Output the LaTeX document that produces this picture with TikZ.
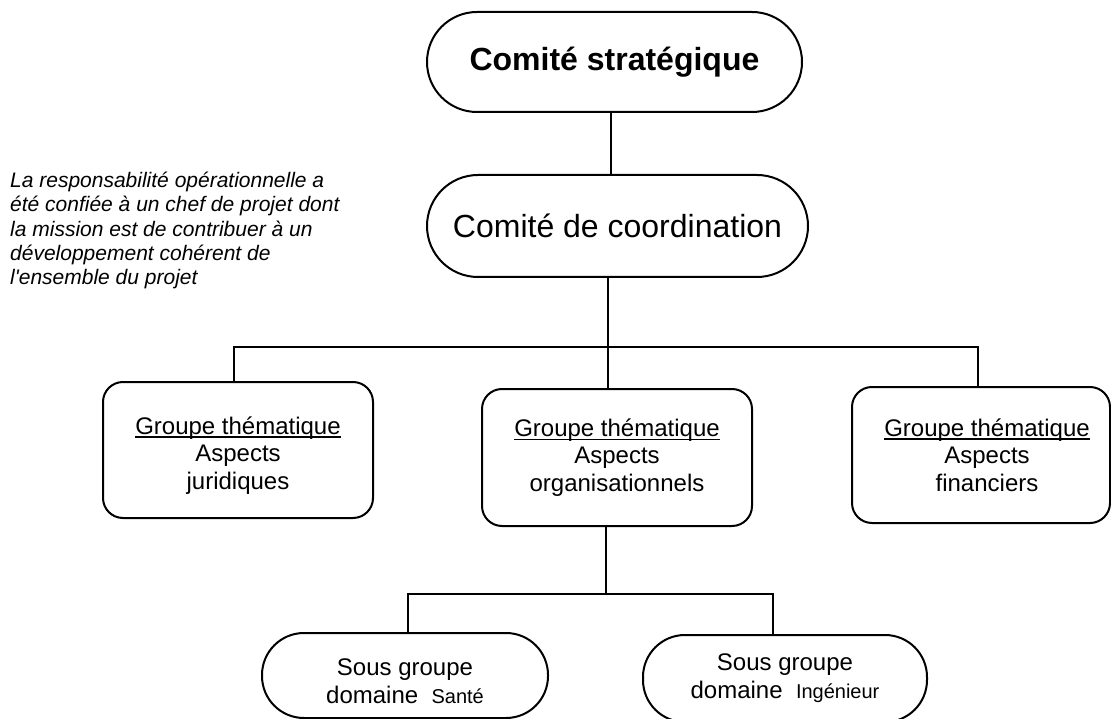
\documentclass[tikz,border=0pt]{standalone}
\usepackage{fontspec}
\setmainfont{Liberation Sans}
\newcommand{\myul}[1]{\setbox0=\hbox{#1}\rlap{\rule[-3.5pt]{\wd0}{1.3pt}}\box0}
\tikzset{
  stadium/.style={draw, line width=2pt, rounded corners=#1, inner sep=0pt, align=center},
  grpbox/.style={draw, line width=2pt, rounded corners=20pt, inner sep=0pt, align=center,
                 font=\fontsize{24}{27.5}\selectfont},
  subbox/.style={draw, line width=2pt, rounded corners=42pt, inner sep=0pt, align=center,
                 font=\fontsize{24}{28}\selectfont},
  link/.style={line width=2pt}
}
\begin{document}
\begin{tikzpicture}[x=1pt,y=-1pt]
\fill[white] (0,0) rectangle (1111,719);
\useasboundingbox (0,0) rectangle (1111,719);

% top nodes
\node[stadium=50pt, minimum width=375pt, minimum height=100pt,
      font=\fontsize{32}{36}\selectfont\bfseries] (strat) at (614.5,62) {Comité stratégique};
\node[stadium=51pt, minimum width=381pt, minimum height=102pt,
      font=\fontsize{32}{36}\selectfont] (coord) at (617.5,226) {Comité de coordination};

% note
\node[anchor=north west, inner sep=0pt, align=left,
      font=\fontsize{21}{24.3}\selectfont\itshape] (note) at (10,172)
  {La responsabilité opérationnelle a\\été confiée à un chef de projet dont\\la mission est de contribuer à un\\développement cohérent de\\l\textquotesingle ensemble du projet};

% thematic groups
\node[grpbox, minimum width=270pt, minimum height=136pt] (g1) at (238,450)
  {\rule{0pt}{28pt}\myul{Groupe thématique}\\Aspects\\juridiques};
\node[grpbox, minimum width=270pt, minimum height=137pt] (g2) at (617,457.5)
  {\myul{Groupe thématique}\\Aspects\\organisationnels};
\node[grpbox, minimum width=258pt, minimum height=136pt] (g3) at (981,455)
  {\hspace*{12pt}\myul{Groupe thématique}\\\hspace*{12pt}Aspects\\\hspace*{12pt}financiers};

% sub-groups
\node[subbox, minimum width=286pt, minimum height=85pt] (s1) at (405,675.5)
  {\rule{0pt}{28pt}Sous groupe\\domaine\ \ {\fontsize{20}{24}\selectfont Santé}};
\node[subbox, minimum width=284pt, minimum height=87pt] (s2) at (785,678.5)
  {Sous groupe\\domaine\ \ {\fontsize{20}{24}\selectfont Ingénieur}};

% connectors
\coordinate (j0) at (611,0);
\draw[link] (j0 |- strat.south) -- (j0 |- coord.north);

\coordinate (j1) at (608,347);
\coordinate (l1) at (234,347);
\coordinate (r1) at (978,347);
\draw[link] (j1 |- coord.south) -- (j1) -- (j1 |- g2.north);
\draw[link] (l1 |- g1.north) -- (l1) -- (r1) -- (r1 |- g3.north);

\coordinate (j2) at (606,594);
\coordinate (l2) at (408,594);
\coordinate (r2) at (773,594);
\draw[link] (j2 |- g2.south) -- (j2);
\draw[link] (l2 |- s1.north) -- (l2) -- (r2) -- (r2 |- s2.north);
\end{tikzpicture}
\end{document}
